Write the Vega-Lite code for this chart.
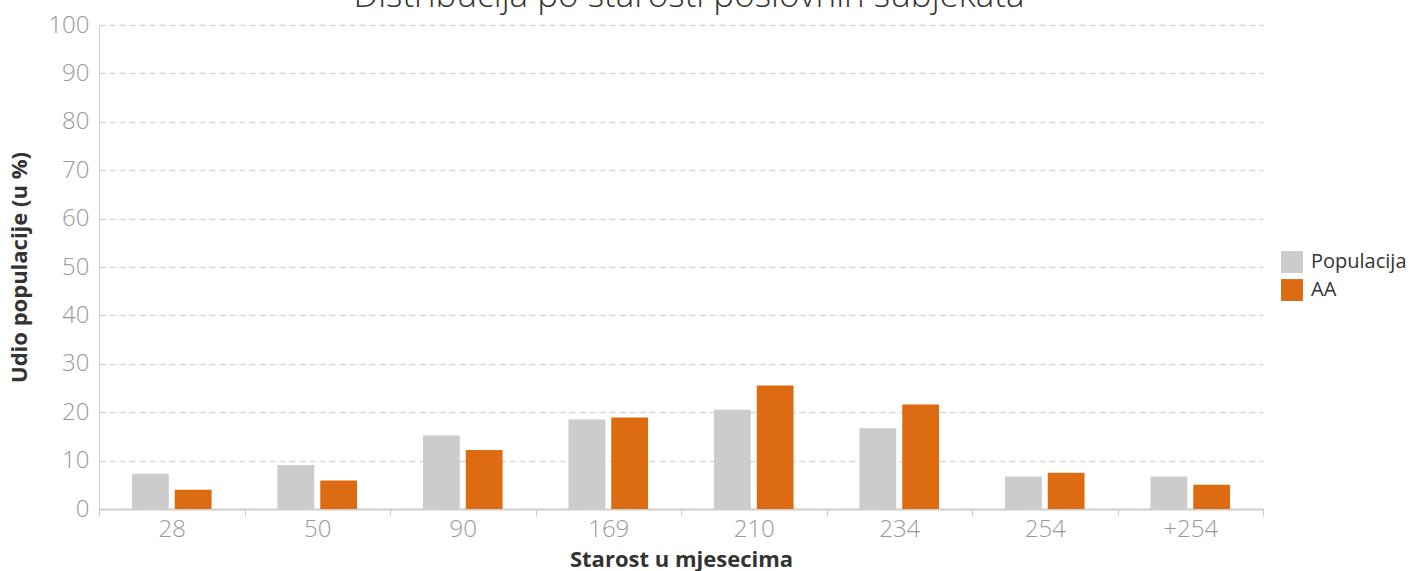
{
  "$schema": "https://vega.github.io/schema/vega-lite/v6.json",
  "autosize": "none",
  "width": 1164,
  "height": 484,
  "padding": {"left": 99, "top": 25, "right": 149, "bottom": 62},
  "background": "white",
  "title": {
    "text": "Distribucija po starosti poslovnih subjekata",
    "fontSize": 35,
    "font": "Open Sans",
    "fontWeight": 300,
    "color": "#333333",
    "anchor": "middle",
    "offset": 0,
    "dy": 1,
    "dx": 8
  },
  "data": {
    "values": [
      {"age": "28", "series": "Populacija", "value": 7.3},
      {"age": "28", "series": "AA", "value": 4.0},
      {"age": "50", "series": "Populacija", "value": 9.1},
      {"age": "50", "series": "AA", "value": 5.9},
      {"age": "90", "series": "Populacija", "value": 15.2},
      {"age": "90", "series": "AA", "value": 12.2},
      {"age": "169", "series": "Populacija", "value": 18.5},
      {"age": "169", "series": "AA", "value": 18.9},
      {"age": "210", "series": "Populacija", "value": 20.5},
      {"age": "210", "series": "AA", "value": 25.5},
      {"age": "234", "series": "Populacija", "value": 16.7},
      {"age": "234", "series": "AA", "value": 21.6},
      {"age": "254", "series": "Populacija", "value": 6.7},
      {"age": "254", "series": "AA", "value": 7.5},
      {"age": "+254", "series": "Populacija", "value": 6.7},
      {"age": "+254", "series": "AA", "value": 5.0}
    ]
  },
  "config": {
    "view": {"stroke": null},
    "font": "Open Sans"
  },
  "mark": {"type": "bar"},
  "encoding": {
    "x": {
      "field": "age",
      "type": "nominal",
      "sort": ["28", "50", "90", "169", "210", "234", "254", "+254"],
      "scale": {"paddingInner": 0, "paddingOuter": 0},
      "axis": {
        "title": "Starost u mjesecima",
        "titleFont": "Open Sans",
        "titleFontSize": 22,
        "titleFontWeight": "bold",
        "titleColor": "#333333",
        "titlePadding": 8,
        "labelAngle": 0,
        "labelFontSize": 24,
        "labelFontWeight": 300,
        "labelColor": "#999999",
        "labelPadding": 1,
        "tickBand": "extent",
        "tickColor": "#c0d0e0",
        "tickSize": 7,
        "domainColor": "#d0d0d0",
        "domainWidth": 2
      }
    },
    "xOffset": {
      "field": "series",
      "type": "nominal",
      "sort": ["Populacija", "AA"],
      "scale": {"paddingInner": 0.14, "paddingOuter": 0.77}
    },
    "y": {
      "field": "value",
      "type": "quantitative",
      "scale": {"domain": [0, 100], "nice": false},
      "axis": {
        "title": "Udio populacije (u %)",
        "titleFont": "Open Sans",
        "titleFontSize": 22,
        "titleFontWeight": "bold",
        "titleColor": "#333333",
        "titlePadding": 16,
        "values": [0, 10, 20, 30, 40, 50, 60, 70, 80, 90, 100],
        "labelFontSize": 24,
        "labelFontWeight": 300,
        "labelColor": "#999999",
        "labelPadding": 10,
        "ticks": false,
        "domainColor": "#d0d0d0",
        "gridColor": "#d8d8d8",
        "gridDash": [6, 4],
        "gridWidth": 1.5
      }
    },
    "color": {
      "field": "series",
      "type": "nominal",
      "sort": ["Populacija", "AA"],
      "scale": {"domain": ["Populacija", "AA"], "range": ["#cccccc", "#dd6b12"]},
      "legend": {
        "title": null,
        "orient": "none",
        "legendX": 1182,
        "legendY": 226,
        "symbolType": "square",
        "symbolSize": 480,
        "symbolStrokeWidth": 0,
        "symbolOpacity": 1,
        "labelFontSize": 20,
        "labelFont": "Open Sans",
        "labelColor": "#333333",
        "rowPadding": 6,
        "labelOffset": 8
      }
    }
  }
}
